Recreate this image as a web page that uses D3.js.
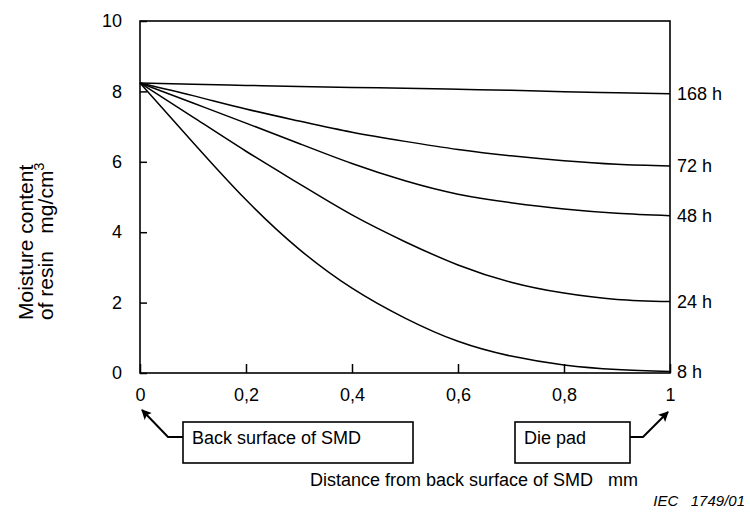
<!DOCTYPE html>
<html>
<head>
<meta charset="utf-8">
<script src="https://cdn.jsdelivr.net/npm/d3@7"></script>
<style>
    body { margin: 0; background: #fff; }
    svg text { font-family: "Liberation Sans", Arial, sans-serif; fill: #000; }
</style>
</head>
<body>
<svg id="canvas" width="750" height="513"></svg>
<script>
// distance from back surface (mm)
var distances = [0, 0.1, 0.2, 0.3, 0.4, 0.5, 0.6, 0.7, 0.8, 0.9, 1.0];

// moisture content (mg/cm3) for each soak time
var moisture168h = [8.24, 8.20, 8.17, 8.14, 8.11, 8.09, 8.06, 8.03, 7.99, 7.96, 7.93];
var moisture72h = [8.24, 7.88, 7.50, 7.16, 6.84, 6.58, 6.35, 6.17, 6.03, 5.93, 5.88];
var moisture48h = [8.24, 7.67, 7.10, 6.52, 5.95, 5.46, 5.08, 4.84, 4.66, 4.54, 4.47];
var moisture24h = [8.24, 7.27, 6.30, 5.38, 4.49, 3.73, 3.07, 2.58, 2.27, 2.09, 2.03];
var moisture8h = [8.24, 6.55, 4.92, 3.52, 2.41, 1.56, 0.90, 0.48, 0.23, 0.10, 0.04];

var seriesNames = ["168 h", "72 h", "48 h", "24 h", "8 h"];
var seriesValues = [moisture168h, moisture72h, moisture48h, moisture24h, moisture8h];

var xTicks = [0, 0.2, 0.4, 0.6, 0.8, 1];
var yTicks = [0, 2, 4, 6, 8, 10];

function drawChart() {
    "use strict";

    var FONT = 18;
    var left = 140, right = 670, top = 21, bottom = 373;

    var svg = d3.select(document.getElementById('canvas'));

    var x = d3.scaleLinear().domain([0, 1]).range([left, right]);
    var y = d3.scaleLinear().domain([0, 10]).range([bottom, top]);

    var fmt = function(d) {
        return String(d).replace('.', ',');
    };

    // axes, ticks point inwards
    var xAxis = svg.append('g')
        .attr('transform', 'translate(0,' + bottom + ')')
        .call(d3.axisBottom(x).tickValues(xTicks).tickFormat(fmt).tickSizeInner(-9).tickSizeOuter(0).tickPadding(15));
    var yAxis = svg.append('g')
        .attr('transform', 'translate(' + left + ',0)')
        .call(d3.axisLeft(y).tickValues(yTicks).tickFormat(fmt).tickSizeInner(-7).tickSizeOuter(0).tickPadding(18));

    [xAxis, yAxis].forEach(function(g) {
        g.select('.domain').remove();
        g.selectAll('.tick line').attr('stroke', '#000').attr('stroke-width', 1.5);
        g.selectAll('.tick text')
            .attr('font-size', FONT)
            .attr('font-family', '"Liberation Sans", Arial, sans-serif');
    });

    // frame
    svg.append('rect')
        .attr('x', left)
        .attr('y', top)
        .attr('width', right - left)
        .attr('height', bottom - top)
        .attr('fill', 'none')
        .attr('stroke', '#000')
        .attr('stroke-width', 1.6);

    var line = d3.line()
        .x(function(d, i) { return x(distances[i]); })
        .y(function(d) { return y(d); })
        .curve(d3.curveNatural);

    svg.selectAll('path.curve')
        .data(seriesValues)
        .enter().append('path')
        .attr('class', 'curve')
        .attr('d', line)
        .attr('fill', 'none')
        .attr('stroke', '#000')
        .attr('stroke-width', 1.5);

    svg.selectAll('text.series')
        .data(seriesValues)
        .enter().append('text')
        .attr('class', 'series')
        .attr('x', right + 7)
        .attr('y', function(d) { return y(d[d.length - 1]); })
        .attr('dy', '0.35em')
        .attr('font-size', FONT)
        .text(function(d, i) { return seriesNames[i]; });

    // y title, two rotated lines
    var TFONT = 21;
    svg.append('text')
        .attr('transform', 'translate(33,320) rotate(-90)')
        .attr('font-size', TFONT)
        .text('Moisture content');
    var yTitle2 = svg.append('text')
        .attr('transform', 'translate(53,320) rotate(-90)')
        .attr('font-size', TFONT)
        .style('white-space', 'pre');
    yTitle2.append('tspan').text('of resin   mg/cm');
    yTitle2.append('tspan').attr('dy', -9).attr('font-size', TFONT * 0.7).text('3');

    // x title
    svg.append('text')
        .attr('x', 638)
        .attr('y', 486)
        .attr('text-anchor', 'end')
        .attr('font-size', FONT)
        .style('white-space', 'pre')
        .text('Distance from back surface of SMD   mm');

    svg.append('text')
        .attr('x', 745)
        .attr('y', 506)
        .attr('text-anchor', 'end')
        .attr('font-size', 15)
        .attr('font-style', 'italic')
        .style('white-space', 'pre')
        .text('IEC   1749/01');

    // callout boxes with arrows
    svg.append('defs').append('marker')
        .attr('id', 'head')
        .attr('viewBox', '0 0 10 10')
        .attr('refX', 9)
        .attr('refY', 5)
        .attr('markerWidth', 15)
        .attr('markerHeight', 10)
        .attr('markerUnits', 'userSpaceOnUse')
        .attr('orient', 'auto')
        .append('path')
        .attr('d', 'M0,0L10,5L0,10L2,5z')
        .attr('fill', '#000');

    var callouts = [
        {label: 'Back surface of SMD', box: [183, 422, 230, 41], path: [[183, 437], [168, 437], [142, 410]]},
        {label: 'Die pad', box: [515, 422, 115, 41], path: [[630, 437], [643, 437], [668, 412]]}
    ];

    callouts.forEach(function(c) {
        svg.append('rect')
            .attr('x', c.box[0])
            .attr('y', c.box[1])
            .attr('width', c.box[2])
            .attr('height', c.box[3])
            .attr('fill', 'none')
            .attr('stroke', '#000')
            .attr('stroke-width', 1.6);
        svg.append('text')
            .attr('x', c.box[0] + 9)
            .attr('y', c.box[1] + 22)
            .attr('font-size', FONT)
            .text(c.label);
        svg.append('path')
            .attr('d', d3.line()(c.path))
            .attr('fill', 'none')
            .attr('stroke', '#000')
            .attr('stroke-width', 2)
            .attr('marker-end', 'url(#head)');
    });
}

drawChart();
</script>
</body>
</html>
